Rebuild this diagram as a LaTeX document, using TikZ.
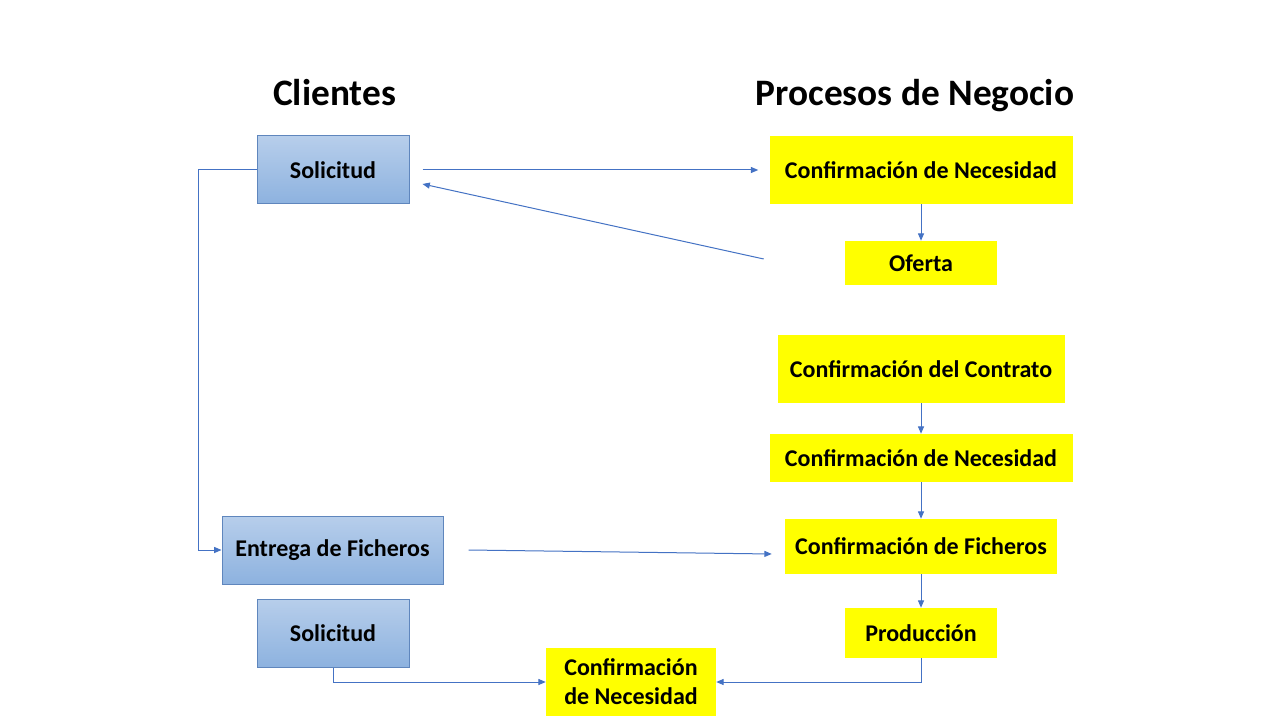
\documentclass[tikz,border=0pt]{standalone}
\usepackage{fontspec}
\setmainfont{Carlito}
\usetikzlibrary{arrows.meta,calc}
\definecolor{ln}{HTML}{4472C4}
\definecolor{bluetop}{HTML}{B7CEEB}
\definecolor{bluebot}{HTML}{8DB2DF}
\definecolor{blueedge}{HTML}{5F86BD}
\definecolor{yel}{HTML}{FFFF00}
\begin{document}
\begin{tikzpicture}[x=0.75pt,y=-0.75pt,
  boxtext/.style={font=\bfseries\fontsize{18}{21.6}\selectfont, align=center, inner sep=0pt, text=black},
  yelbox/.style={boxtext, fill=yel},
  bluebox/.style={boxtext, top color=bluetop, bottom color=bluebot, draw=blueedge, line width=0.75pt},
  title/.style={font=\bfseries\fontsize{28}{34}\selectfont, text=black, anchor=base, inner sep=0pt},
  conn/.style={draw=ln, line width=0.75pt, -{Triangle[length=5.5pt,width=4.5pt]}}]
\useasboundingbox (0,0) rectangle (1280,720);
\fill[white] (0,0) rectangle (1280,720);

\node[title] (tcli) at (334.5,106) {Clientes};
\node[title] (tproc) at (915,106) {Procesos de Negocio};

\node[bluebox, minimum width=114pt, minimum height=51pt] (sol1) at (333,170) {Solicitud};
\node[bluebox, minimum width=165.75pt, minimum height=51pt] (ent) at (332.5,550) {Entrega de Ficheros};
\node[bluebox, minimum width=114pt, minimum height=51pt] (sol2) at (333,633) {Solicitud};

\node[yelbox, minimum width=227.25pt, minimum height=51pt] (cn1) at (921,170) {Confirmación de Necesidad};
\node[yelbox, minimum width=114pt, minimum height=33pt] (ofe) at (921,263) {Oferta};
\node[yelbox, minimum width=215.25pt, minimum height=51pt] (con) at (921,369) {Confirmación del Contrato};
\node[yelbox, minimum width=227.25pt, minimum height=36pt] (cn2) at (921,458) {Confirmación de Necesidad};
\node[yelbox, minimum width=204pt, minimum height=41.25pt] (cf) at (921,546.5) {Confirmación de Ficheros};
\node[yelbox, minimum width=114pt, minimum height=37.5pt] (prod) at (921,633) {Producción};
\node[yelbox, minimum width=127.5pt, minimum height=51pt] (cn3) at (631,682) {Confirmación\\de Necesidad};

\draw[conn, shorten <=9.75pt, shorten >=8.25pt] (sol1.east) -- (cn1.west);
\draw[conn] ($(ofe.west)+(-81,-4)$) -- ($(sol1.east)+(13,14)$);
\draw[conn] (cn1.south) -- (ofe.north);
\draw[conn] (sol1.west) -- ++(-58,0) |- (ent.west);
\draw[conn] ($(ent.east)+(25,0)$) -- ($(cf.west)+(-13,7.5)$);
\draw[conn] (con.south) -- (cn2.north);
\draw[conn] (cn2.south) -- (cf.north);
\draw[conn] (cf.south) -- (prod.north);
\draw[conn] (prod.south) |- (cn3.east);
\draw[conn] (sol2.south) |- (cn3.west);
\end{tikzpicture}
\end{document}
